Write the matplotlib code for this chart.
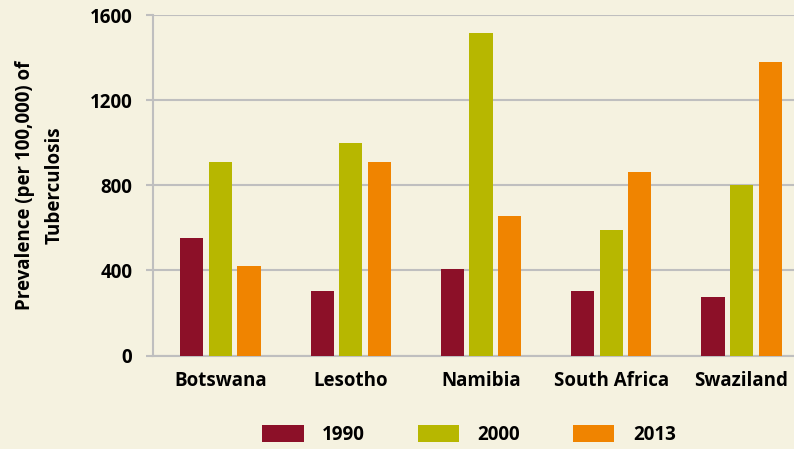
import matplotlib.pyplot as plt
import numpy as np

plt.rcParams['font.family'] = ['Open Sans', 'DejaVu Sans']
plt.rcParams['font.weight'] = 'bold'

countries = ['Botswana', 'Lesotho', 'Namibia', 'South Africa', 'Swaziland']
years = ['1990', '2000', '2013']
tb_1990 = [550, 305, 405, 305, 275]
tb_2000 = [910, 1000, 1515, 590, 800]
tb_2013 = [420, 910, 655, 860, 1380]
colors = ['#8c1028', '#b7b700', '#f08400']
bg = '#f5f2e0'
fs = 13.5

fig = plt.figure(figsize=(7.94, 4.49), dpi=100, facecolor=bg)
ax = fig.add_axes([153/794, 1 - 355.5/449, 641/794, 340.5/449])
ax.set_facecolor(bg)

x = np.arange(len(countries))
w = 0.177
step = 0.219
for i, vals in enumerate([tb_1990, tb_2000, tb_2013]):
    ax.bar(x + (i - 1) * step, vals, width=w, color=colors[i], label=years[i], zorder=3)

ax.set_xlim(-0.518, 4.403)
ax.set_ylim(0, 1600)
ax.set_yticks([0, 400, 800, 1200, 1600])
ax.set_xticks(x)
ax.set_xticklabels(countries, fontsize=fs, fontweight='bold')
ax.tick_params(axis='x', length=0, pad=11)
ax.tick_params(axis='y', length=5, color='#bfbfbf', width=1.5, labelsize=fs, pad=10)
for lbl in ax.get_yticklabels():
    lbl.set_fontweight('bold')
ax.grid(axis='y', color='#bfbfbf', lw=1.5, zorder=0)
for s in ['top', 'right']:
    ax.spines[s].set_visible(False)
ax.spines['left'].set_color('#bfbfbf')
ax.spines['left'].set_linewidth(1.5)
ax.spines['bottom'].set_color('#bfbfbf')
ax.spines['bottom'].set_linewidth(1.5)

ax.set_ylabel('Prevalence (per 100,000) of\nTuberculosis', fontsize=fs, fontweight='bold',
              labelpad=18, linespacing=1.6)

fig.legend(loc='center', bbox_to_anchor=(469/794, 1 - 435/449), ncol=3, frameon=False,
           handlelength=2.2, handleheight=1.05, handletextpad=1.0,
           columnspacing=2.8, prop={'weight': 'bold', 'size': fs})

fig.savefig('out.png', dpi=100, facecolor=bg)
